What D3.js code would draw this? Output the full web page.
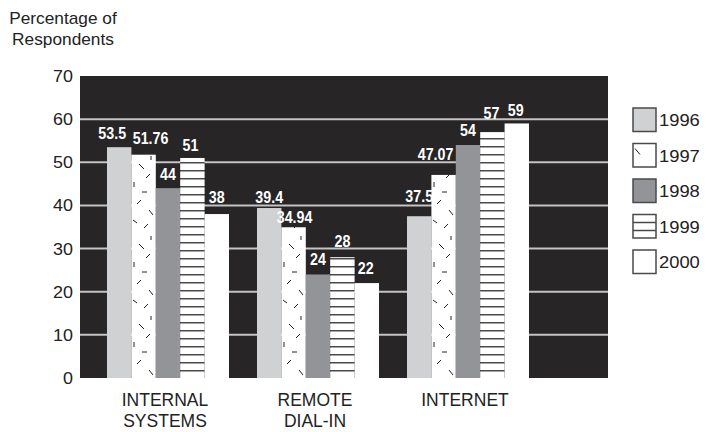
<!DOCTYPE html>
<html>
<head>
<meta charset="utf-8">
<script src="https://cdn.jsdelivr.net/npm/d3@7"></script>
<style>
  html, body { margin: 0; padding: 0; background: #ffffff; }
  svg { display: block; }
  .sans { font-family: "Liberation Sans", Arial, Helvetica, sans-serif; fill: #222; }
  .val { font-family: "Liberation Sans", Arial, sans-serif; font-weight: bold; fill: #ffffff; }
</style>
</head>
<body>
<svg id="chart" width="706" height="432"></svg>
<script>
// ---- data ----
const categories = ["INTERNAL SYSTEMS", "REMOTE DIAL-IN", "INTERNET"];
const categoryLines = [["INTERNAL", "SYSTEMS"], ["REMOTE", "DIAL-IN"], ["INTERNET"]];
const years = ["1996", "1997", "1998", "1999", "2000"];
const values1996 = [53.5, 39.4, 37.5];
const values1997 = [51.76, 34.94, 47.07];
const values1998 = [44, 24, 54];
const values1999 = [51, 28, 57];
const values2000 = [38, 22, 59];
const valueLabels1996 = ["53.5", "39.4", "37.5"];
const valueLabels1997 = ["51.76", "34.94", "47.07"];
const valueLabels1998 = ["44", "24", "54"];
const valueLabels1999 = ["51", "28", "57"];
const valueLabels2000 = ["38", "22", "59"];
const yTicks = [0, 10, 20, 30, 40, 50, 60, 70];
const yTitle = ["Percentage of", "Respondents"];

const seriesValues = [values1996, values1997, values1998, values1999, values2000];
const seriesLabels = [valueLabels1996, valueLabels1997, valueLabels1998, valueLabels1999, valueLabels2000];

// ---- layout ----
const svg = d3.select("#chart");
const plot = { left: 80, right: 608, top: 76, bottom: 378 };

const y = d3.scaleLinear().domain([0, 70]).range([plot.bottom, plot.top]);
const x0 = d3.scaleBand().domain(categories).range([93, 543])
  .paddingInner(28 / 150).paddingOuter(14 / 150);
const x1 = d3.scaleBand().domain(years).range([0, x0.bandwidth()]);

// label nudges (layout only): [dx, gap above bar top]
const nudge = {
  "INTERNAL SYSTEMS|1996": [-7, 8], "INTERNAL SYSTEMS|1997": [7, 10.5],
  "INTERNAL SYSTEMS|1998": [0, 8], "INTERNAL SYSTEMS|1999": [-2, 7], "INTERNAL SYSTEMS|2000": [0, 11],
  "REMOTE DIAL-IN|1996": [0, 5], "REMOTE DIAL-IN|1997": [1, 4.5],
  "REMOTE DIAL-IN|1998": [0, 9.5], "REMOTE DIAL-IN|1999": [0, 10.5], "REMOTE DIAL-IN|2000": [-1, 9],
  "INTERNET|1996": [0, 14], "INTERNET|1997": [-8, 15],
  "INTERNET|1998": [0, 9], "INTERNET|1999": [-1, 13], "INTERNET|2000": [-1, 7]
};

// ---- patterns ----
const defs = svg.append("defs");
const dashPat = defs.append("pattern").attr("id", "pat1997")
  .attr("patternUnits", "userSpaceOnUse").attr("width", 24).attr("height", 80);
dashPat.append("rect").attr("width", 24).attr("height", 80).attr("fill", "#ffffff");
const dashSegs = [
  [8, 4, 13, 9], [19, 14, 15, 18], [3, 22, 3, 27], [11, 32, 16, 32],
  [6, 44, 10, 40], [18, 50, 22, 55], [2, 60, 6, 63], [13, 68, 17, 64],
  [20, 76, 20, 80]
];
dashSegs.forEach(s => dashPat.append("line")
  .attr("x1", s[0]).attr("y1", s[1]).attr("x2", s[2]).attr("y2", s[3])
  .attr("stroke", "#222").attr("stroke-width", 1));

const linePat = defs.append("pattern").attr("id", "pat1999")
  .attr("patternUnits", "userSpaceOnUse").attr("width", 10).attr("height", 8)
  .attr("y", plot.bottom);
linePat.append("rect").attr("width", 10).attr("height", 8).attr("fill", "#ffffff");
linePat.append("rect").attr("y", 0).attr("width", 10).attr("height", 1.5).attr("fill", "#4a4a4a");

const fills = ["#d0d1d3", "url(#pat1997)", "#929497", "url(#pat1999)", "#ffffff"];

// ---- plot background & grid ----
svg.append("rect").attr("x", plot.left).attr("y", plot.top)
  .attr("width", plot.right - plot.left).attr("height", plot.bottom - plot.top)
  .attr("fill", "#272526");

svg.append("g").selectAll("line").data(yTicks.filter(t => t > 0 && t < 70)).join("line")
  .attr("x1", plot.left).attr("x2", plot.right)
  .attr("y1", d => y(d)).attr("y2", d => y(d))
  .attr("stroke", "#c4c4c4").attr("stroke-width", 2);

// ---- y axis labels ----
svg.append("g").selectAll("text").data(yTicks).join("text")
  .attr("class", "sans")
  .attr("transform", d => `translate(73,${y(d) + 6}) scale(1.12,1)`)
  .attr("text-anchor", "end").attr("font-size", 16)
  .text(d => d);

svg.append("g").selectAll("text").data(yTitle).join("text")
  .attr("class", "sans")
  .attr("transform", (d, i) => `translate(63,${24 + i * 21}) scale(1.08,1)`)
  .attr("text-anchor", "middle").attr("font-size", 16)
  .text(d => d);

// ---- bars & value labels ----
categories.forEach((cat, ci) => {
  const g = svg.append("g").attr("transform", `translate(${x0(cat)},0)`);
  years.forEach((yr, si) => {
    const v = seriesValues[si][ci];
    g.append("rect")
      .attr("x", x1(yr)).attr("width", x1.bandwidth())
      .attr("y", y(v)).attr("height", y(0) - y(v))
      .attr("fill", fills[si]);
    const n = nudge[cat + "|" + yr] || [0, 8];
    g.append("text").attr("class", "val")
      .attr("transform", `translate(${x1(yr) + x1.bandwidth() / 2 + n[0]},${y(v) - n[1]}) scale(0.84,1)`)
      .attr("text-anchor", "middle").attr("font-size", 17)
      .text(seriesLabels[si][ci]);
  });
});

// ---- category labels ----
categories.forEach((cat, ci) => {
  const cx = x0(cat) + x0.bandwidth() / 2 - 3;
  svg.append("g").selectAll("text").data(categoryLines[ci]).join("text")
    .attr("class", "sans")
    .attr("x", cx).attr("y", (d, i) => 406 + i * 21)
    .attr("text-anchor", "middle").attr("font-size", 17.5)
    .text(d => d);
});

// ---- legend ----
const legend = svg.append("g");
years.forEach((yr, i) => {
  const ly = 108 + i * 35.5;
  legend.append("rect").attr("x", 633).attr("y", ly).attr("width", 23).attr("height", 23.5)
    .attr("fill", (i === 1 || i === 3) ? "#ffffff" : fills[i])
    .attr("stroke", "#4a4a4a").attr("stroke-width", 1.5);
  if (i === 1) {
    legend.append("line").attr("x1", 635).attr("y1", ly + 5).attr("x2", 640).attr("y2", ly + 11)
      .attr("stroke", "#222").attr("stroke-width", 1);
  }
  if (i === 3) {
    [8, 16].forEach(o => legend.append("line").attr("x1", 633).attr("x2", 656)
      .attr("y1", ly + o).attr("y2", ly + o).attr("stroke", "#4a4a4a").attr("stroke-width", 1.5));
  }
  legend.append("text").attr("class", "sans")
    .attr("transform", `translate(659,${ly + 18}) scale(1.08,1)`)
    .attr("font-size", 17).text(yr);
});
</script>
</body>
</html>
